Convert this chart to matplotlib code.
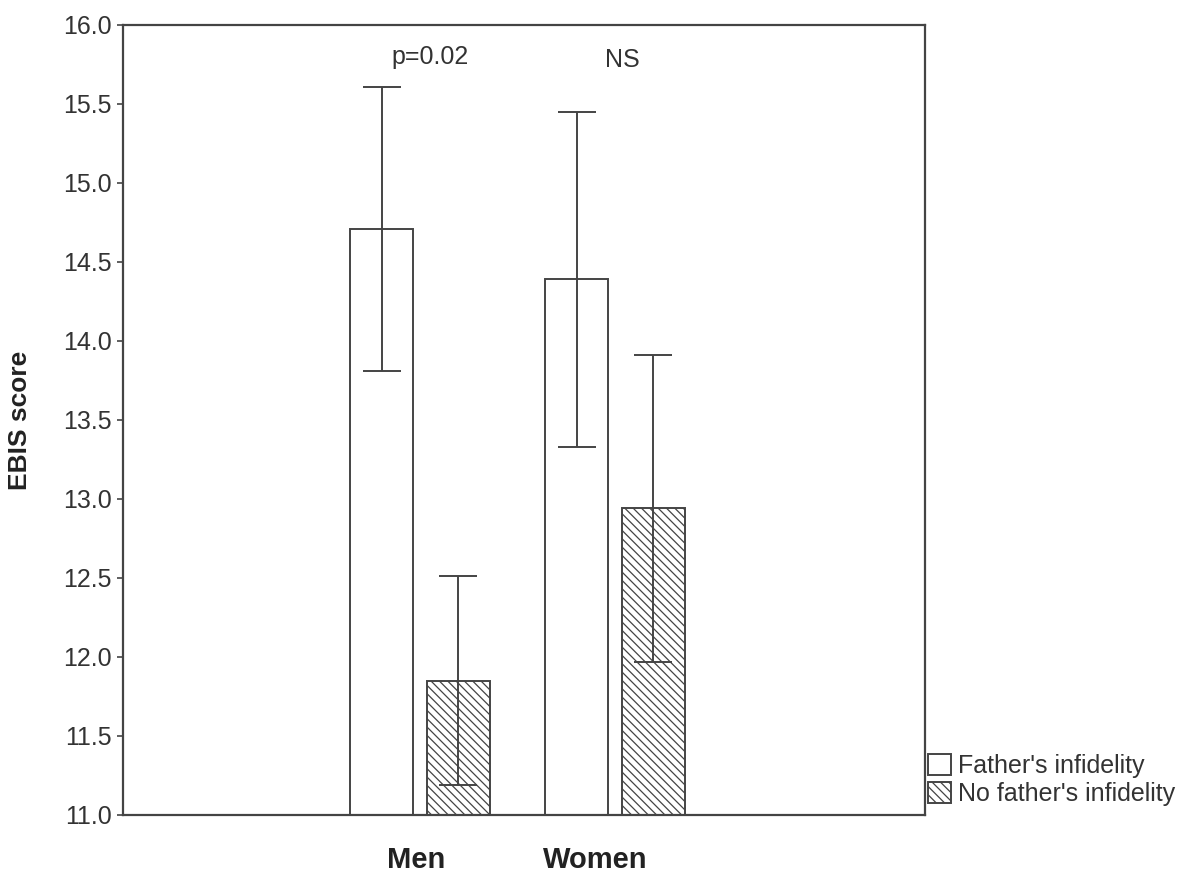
import numpy as np
import matplotlib
matplotlib.use('Agg')
import matplotlib.pyplot as plt

plt.rcParams['font.family'] = ['Liberation Sans', 'DejaVu Sans']
plt.rcParams['hatch.linewidth'] = 0.9
plt.rcParams['hatch.color'] = '#555555'

# data
groups = ['Men', 'Women']
series = ["Father's infidelity", "No father's infidelity"]
father_mean = [14.71, 14.39]
father_err = [0.90, 1.06]
nofather_mean = [11.85, 12.94]
nofather_err = [0.66, 0.97]
notes = ['p=0.02', 'NS']

ymin = 11.0
col = '#444444'

fig = plt.figure(figsize=(11.92, 8.8), dpi=100)
ax = fig.add_axes([0.1032, 0.0739, 0.6728, 0.8977])

x = np.arange(len(groups))
w = 0.323
off = 0.197

b1 = ax.bar(x - off, np.array(father_mean) - ymin, w, bottom=ymin,
            color='white', edgecolor=col, linewidth=1.4, label=series[0])
b2 = ax.bar(x + off, np.array(nofather_mean) - ymin, w, bottom=ymin,
            color='white', edgecolor=col, linewidth=1.4, hatch='\\\\\\\\',
            label=series[1])
ax.errorbar(x - off, father_mean, yerr=father_err, fmt='none', ecolor=col,
            elinewidth=1.4, capsize=13.5, capthick=1.4)
ax.errorbar(x + off, nofather_mean, yerr=nofather_err, fmt='none', ecolor=col,
            elinewidth=1.4, capsize=13.5, capthick=1.4)

# significance notes
ax.text(0.05, 15.80, notes[0], ha='center', va='center', fontsize=18, color='#333333')
ax.text(1.04, 15.78, notes[1], ha='center', va='center', fontsize=18, color='#333333')

ax.set_xlim(-1.523, 2.59)
ax.set_ylim(11.0, 16.0)
ax.set_yticks(np.arange(11.0, 16.01, 0.5))
ax.set_yticklabels(['%.1f' % v for v in np.arange(11.0, 16.01, 0.5)])
ax.set_xticks([-0.02, 0.9])
ax.set_xticklabels(groups, fontweight='bold', fontsize=21, color='#222222')
ax.tick_params(axis='x', length=0, pad=22)
ax.tick_params(axis='y', direction='out', length=4, width=1.2, color=col,
               labelsize=18, labelcolor='#333333', pad=4)
for s in ax.spines.values():
    s.set_color(col)
    s.set_linewidth(1.6)

ax.set_ylabel('EBIS score', fontsize=19, fontweight='bold', color='#222222')
ax.yaxis.set_label_coords(-0.113, 0.5)

fig.legend(handles=[b1, b2], labels=series, loc='lower left',
           bbox_to_anchor=(928 / 1192, (880 - 806) / 880), frameon=False,
           fontsize=18, handlelength=0.9, handleheight=0.9, handletextpad=0.3,
           borderpad=0, borderaxespad=0, labelspacing=0.15, labelcolor='#333333')

fig.savefig('out.png', dpi=100)
